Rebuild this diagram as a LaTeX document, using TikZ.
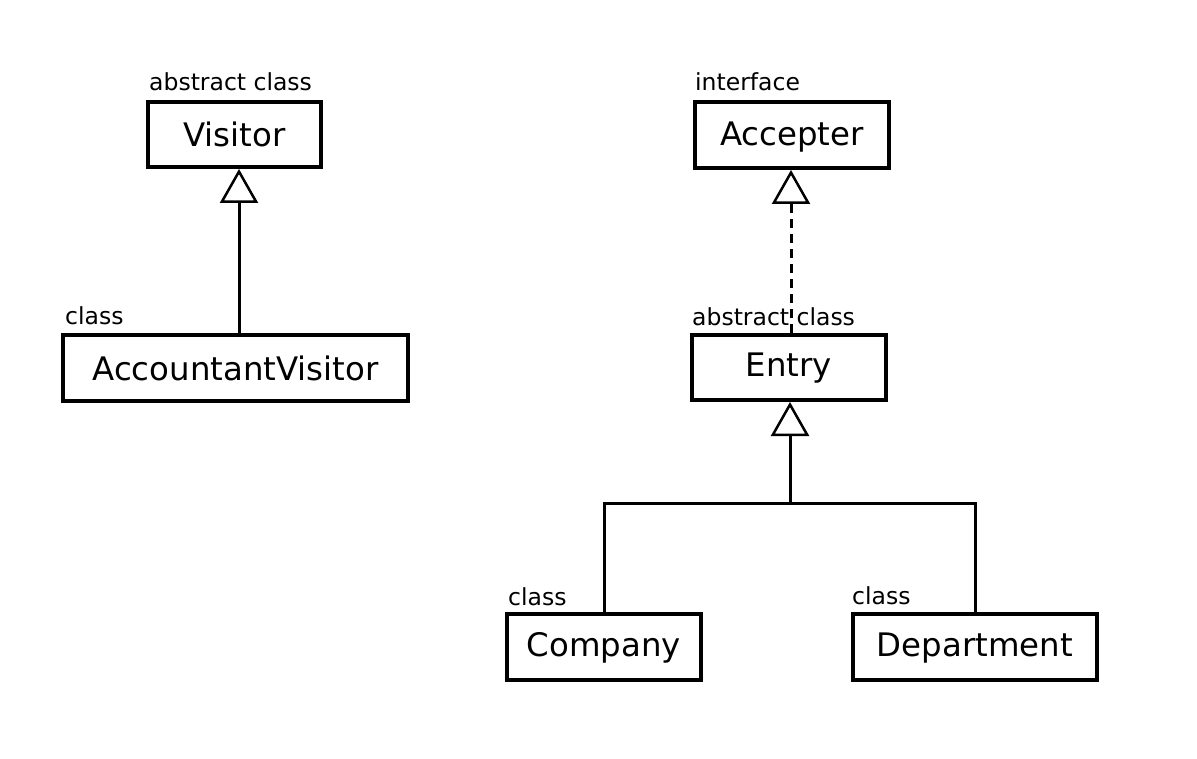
\documentclass[tikz,border=0pt]{standalone}
\usepackage{fontspec}
\setmainfont{DejaVu Sans}
\usetikzlibrary{arrows.meta}
\begin{document}
\begin{tikzpicture}[x=1pt,y=-1pt,
  box/.style={draw,line width=4pt,inner sep=0pt,font=\fontsize{32.4}{36}\selectfont},
  lbl/.style={anchor=base west,inner sep=0pt,font=\fontsize{23.5}{28}\selectfont},
  conn/.style={line width=3pt},
  inh/.style={conn,-{Triangle[open,length=34pt,width=38pt,line width=2.5pt]}}]
\useasboundingbox (0,0) rectangle (1197,759);
\node[box,minimum width=173pt,minimum height=65pt,text height=25pt,text depth=0pt] (vis) at (234.5,134.5) {Visitor};
\node[box,minimum width=345pt,minimum height=66pt,text height=24pt,text depth=0pt] (acc) at (235.5,368) {AccountantVisitor};
\node[box,minimum width=194pt,minimum height=66pt,text height=24pt,text depth=2pt] (acp) at (792,135) {Accepter};
\node[box,minimum width=194pt,minimum height=65pt,text height=24pt,text depth=6pt] (ent) at (789,367.5) {Entry};
\node[box,minimum width=194pt,minimum height=66pt,text height=24pt,text depth=6pt] (comp) at (604,647) {Company};
\node[box,minimum width=244pt,minimum height=66pt,text height=24pt,text depth=6pt] (dept) at (975,647) {Department};
\node[lbl] (l1) at (149,91) {abstract class};
\node[lbl] (l2) at (65,325) {class};
\node[lbl] (l3) at (695,91) {interface};
\node[lbl] (l4) at (692,326) {abstract class};
\node[lbl] (l5) at (508,605) {class};
\node[lbl] (l6) at (852,604) {class};
\coordinate (vx) at (239,0);
\coordinate (ax) at (791,0);
\coordinate (ex) at (790,0);
\coordinate (jn) at (790,503);
\draw[inh] (acc.north -| vx) -- (vis.south -| vx);
\draw[inh,dash pattern=on 9pt off 6pt] (ent.north -| ax) -- (acp.south -| ax);
\draw[inh] (jn) -- (ent.south -| ex);
\draw[conn] (comp.north) |- (jn) -| (dept.north);
\end{tikzpicture}
\end{document}
